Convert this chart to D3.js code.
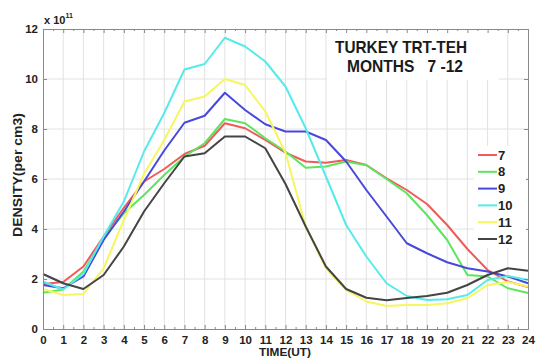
<!DOCTYPE html>
<html>
<head>
<meta charset="utf-8">
<script src="https://cdn.jsdelivr.net/npm/d3@7"></script>
<style>
    body { margin: 0; background: #fff; }
    svg { font-family: "Liberation Sans", Arial, sans-serif; }
    .axis path, .axis line { stroke: #8a8a8a; }
    .axis text { font-size: 11px; font-weight: bold; fill: #222; }
    .grid line { stroke: #e2e2e2; stroke-width: 1; }
    .series { fill: none; stroke-width: 2; stroke-linejoin: round; }
</style>
</head>
<body>
<div id="chart"></div>
<script>
// hour of day (UT)
const hours = [0, 1, 2, 3, 4, 5, 6, 7, 8, 9, 10, 11, 12, 13, 14, 15, 16, 17, 18, 19, 20, 21, 22, 23, 24];

// electron density, units of 1e11 per cm3, one array per month
const month7  = [1.8, 1.88, 2.5, 3.7, 4.85, 5.9, 6.4, 7.0, 7.33, 8.23, 8.03, 7.56, 7.05, 6.7, 6.65, 6.76, 6.56, 6.03, 5.56, 5.0, 4.16, 3.2, 2.36, 1.9, 1.68];
const month8  = [1.45, 1.58, 2.3, 3.64, 4.63, 5.36, 6.16, 6.9, 7.43, 8.4, 8.23, 7.63, 7.1, 6.45, 6.5, 6.7, 6.55, 6.0, 5.43, 4.56, 3.56, 2.16, 2.1, 1.63, 1.44];
const month9  = [1.76, 1.63, 2.1, 3.56, 4.7, 5.9, 7.14, 8.25, 8.53, 9.45, 8.76, 8.19, 7.9, 7.9, 7.56, 6.7, 5.56, 4.5, 3.43, 3.03, 2.67, 2.43, 2.3, 2.1, 1.83];
const month10 = [1.9, 1.58, 2.2, 3.7, 5.1, 7.1, 8.64, 10.38, 10.6, 11.65, 11.3, 10.7, 9.7, 8.03, 6.1, 4.16, 2.9, 1.83, 1.32, 1.16, 1.19, 1.36, 1.96, 2.12, 1.96];
const month11 = [1.6, 1.36, 1.4, 2.43, 4.36, 6.2, 7.56, 9.1, 9.3, 10.0, 9.76, 8.7, 7.05, 4.1, 2.43, 1.56, 1.1, 0.92, 0.96, 0.96, 1.03, 1.23, 1.76, 1.88, 1.7];
const month12 = [2.2, 1.83, 1.6, 2.16, 3.3, 4.7, 5.83, 6.9, 7.03, 7.7, 7.7, 7.23, 5.8, 4.1, 2.5, 1.6, 1.25, 1.15, 1.24, 1.32, 1.45, 1.76, 2.16, 2.43, 2.33];

const monthNames = ['7', '8', '9', '10', '11', '12'];
const monthSeries = [month7, month8, month9, month10, month11, month12];

const xTicks = [0, 1, 2, 3, 4, 5, 6, 7, 8, 9, 10, 11, 12, 13, 14, 15, 16, 17, 18, 19, 20, 21, 22, 23, 24];
const yTicks = [0, 2, 4, 6, 8, 10, 12];

const lineColors = ['#f05a5a', '#5ee45e', '#4848dc', '#56eaea', '#f6f65e', '#444444'];

const svgWidth = 537, svgHeight = 358;
const margin = {top: 29, right: 9, bottom: 29, left: 43};
const width = svgWidth - margin.left - margin.right;
const height = svgHeight - margin.top - margin.bottom;

const svg = d3.select('#chart').append('svg')
    .attr('width', svgWidth)
    .attr('height', svgHeight);

const g = svg.append('g')
    .attr('transform', 'translate(' + margin.left + ',' + margin.top + ')');

const xScale = d3.scaleLinear().domain([0, 24]).range([0, width]);
const yScale = d3.scaleLinear().domain([0, 12]).range([height, 0]);

// grid
const grid = g.append('g').attr('class', 'grid');
grid.selectAll('.vline').data(xTicks.slice(1, -1)).enter().append('line')
    .attr('x1', function(d) { return xScale(d); })
    .attr('x2', function(d) { return xScale(d); })
    .attr('y1', 0).attr('y2', height);
grid.selectAll('.hline').data(yTicks.slice(1, -1)).enter().append('line')
    .attr('x1', 0).attr('x2', width)
    .attr('y1', function(d) { return yScale(d); })
    .attr('y2', function(d) { return yScale(d); });

// white box behind the title
g.append('rect')
    .attr('x', xScale(14) + 1).attr('y', 1)
    .attr('width', xScale(22.5) - xScale(14)).attr('height', 50)
    .attr('fill', '#fff');

// lines
const line = d3.line()
    .x(function(d, i) { return xScale(hours[i]); })
    .y(function(d) { return yScale(d); });

g.selectAll('.series').data(monthSeries).enter().append('path')
    .attr('class', 'series')
    .attr('d', function(d) { return line(d); })
    .style('stroke', function(d, i) { return lineColors[i]; });

// axes (ticks inside, matlab box)
const minorTicks = xTicks.slice(0, -1).map(function(d) { return d + 0.5; });

g.append('g').attr('class', 'axis')
    .attr('transform', 'translate(0,' + height + ')')
    .call(d3.axisBottom(xScale).tickValues(xTicks).tickSize(-4).tickSizeOuter(0).tickPadding(7).tickFormat(d3.format('d')));
g.append('g').attr('class', 'axis')
    .attr('transform', 'translate(0,' + height + ')')
    .call(d3.axisBottom(xScale).tickValues(minorTicks).tickSize(-2).tickSizeOuter(0).tickFormat(''));
g.append('g').attr('class', 'axis')
    .call(d3.axisTop(xScale).tickValues(xTicks).tickSize(-4).tickSizeOuter(0).tickFormat(''));
g.append('g').attr('class', 'axis')
    .call(d3.axisTop(xScale).tickValues(minorTicks).tickSize(-2).tickSizeOuter(0).tickFormat(''));
g.append('g').attr('class', 'axis')
    .call(d3.axisLeft(yScale).tickValues(yTicks).tickSize(-4).tickSizeOuter(0).tickPadding(5).tickFormat(d3.format('d')));
g.append('g').attr('class', 'axis')
    .attr('transform', 'translate(' + width + ',0)')
    .call(d3.axisRight(yScale).tickValues(yTicks).tickSize(-4).tickSizeOuter(0).tickFormat(''));

g.selectAll('.axis text').style('font-size', '11.5px');

// exponent
const expo = svg.append('text')
    .attr('x', 44).attr('y', 24)
    .style('font-size', '11px').style('font-weight', 'bold').style('fill', '#222');
expo.append('tspan').text('x 10');
expo.append('tspan').attr('dy', -6).style('font-size', '7px').text('11');

// title
svg.append('text')
    .attr('x', 401).attr('y', 53)
    .attr('text-anchor', 'middle')
    .attr('textLength', 132).attr('lengthAdjust', 'spacingAndGlyphs')
    .style('font-size', '17px').style('font-weight', 'bold').style('fill', '#1a1a1a')
    .text('TURKEY TRT-TEH');
svg.append('text')
    .attr('x', 405).attr('y', 72)
    .attr('text-anchor', 'middle')
    .attr('textLength', 116).attr('lengthAdjust', 'spacingAndGlyphs')
    .style('font-size', '17px').style('font-weight', 'bold').style('fill', '#1a1a1a')
    .style('white-space', 'pre')
    .text('MONTHS   7 -12');

// axis titles
svg.append('text')
    .attr('transform', 'translate(22,175) rotate(-90)')
    .attr('text-anchor', 'middle')
    .attr('textLength', 124).attr('lengthAdjust', 'spacingAndGlyphs')
    .style('font-size', '12px').style('font-weight', 'bold').style('fill', '#222')
    .text('DENSITY(per cm3)');
svg.append('text')
    .attr('x', 285).attr('y', 356)
    .attr('text-anchor', 'middle')
    .attr('textLength', 52).attr('lengthAdjust', 'spacingAndGlyphs')
    .style('font-size', '11px').style('font-weight', 'bold').style('fill', '#222')
    .text('TIME(UT)');

// legend
const legend = svg.append('g').attr('class', 'legend');
legend.append('rect')
    .attr('x', 474).attr('y', 146).attr('width', 52).attr('height', 102)
    .attr('fill', '#fff');
const item = legend.selectAll('.legend_item').data(monthNames).enter().append('g')
    .attr('class', 'legend_item')
    .attr('transform', function(d, i) { return 'translate(478,' + (155 + 16.8 * i) + ')'; });
item.append('line')
    .attr('x1', 0).attr('x2', 19)
    .style('stroke', function(d, i) { return lineColors[i]; })
    .style('stroke-width', 2);
item.append('text')
    .attr('x', 20).attr('dy', '0.36em')
    .style('font-size', '13px').style('font-weight', 'bold').style('fill', '#222')
    .text(function(d) { return d; });
</script>
</body>
</html>
